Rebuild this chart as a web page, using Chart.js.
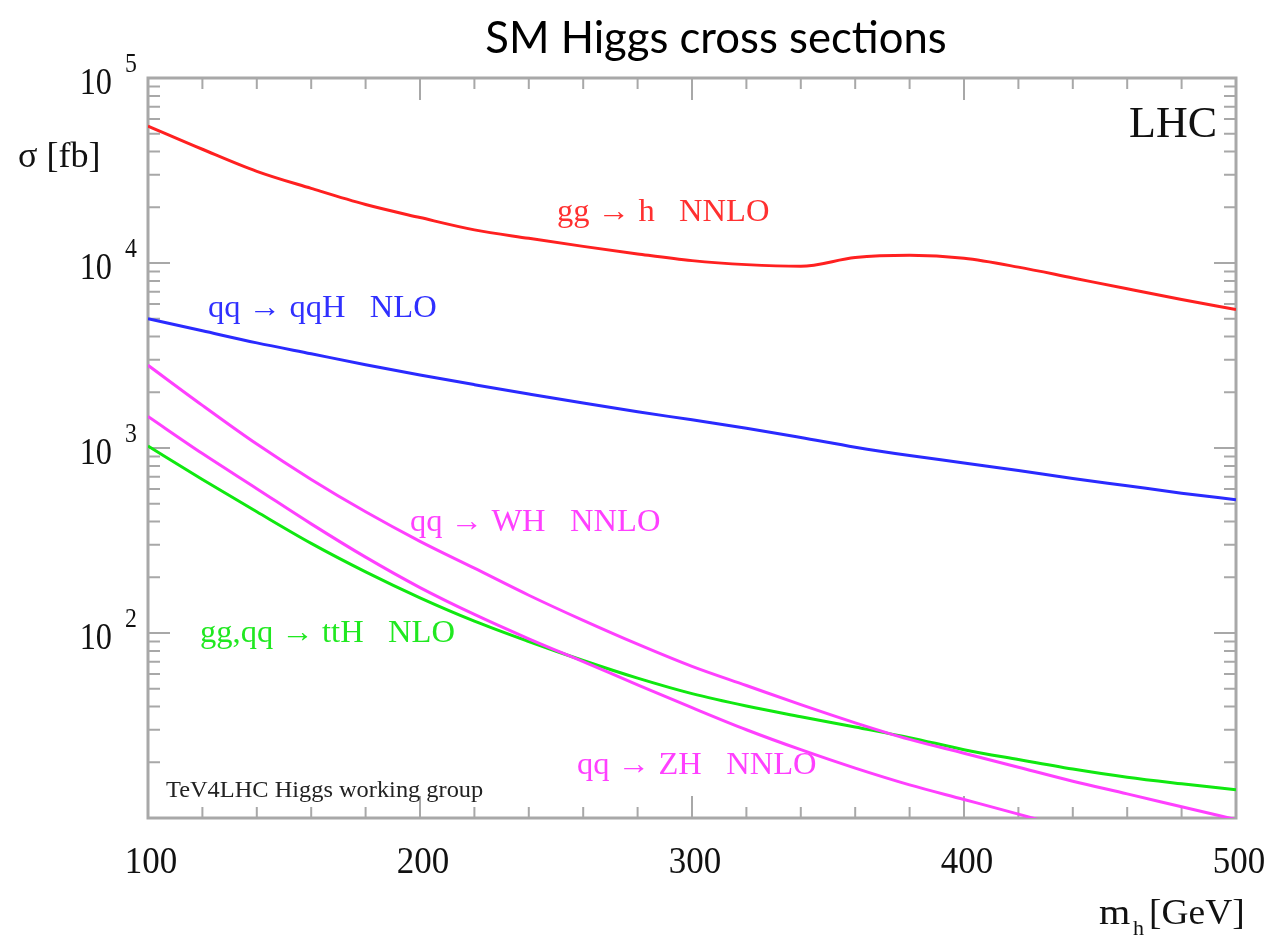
<!DOCTYPE html>
<html>
<head>
<meta charset="utf-8">
<script src="https://cdn.jsdelivr.net/npm/chart.js@4.4.1/dist/chart.umd.min.js"></script>
<style>
  body { margin: 0; background: #fff; }
  #wrap { position: relative; width: 1266px; height: 937px; }
</style>
</head>
<body>
<div id="wrap"><canvas id="higgsChart" width="1266" height="937"></canvas></div>
<script>
// Higgs mass points (GeV) and cross sections (fb)
const masses = [100, 120, 140, 160, 180, 200, 220, 240, 260, 280, 300, 320, 340, 360, 380, 400, 420, 440, 460, 480, 500];
const ggH = [55000, 41200, 31300, 25300, 20700, 17600, 15100, 13600, 12300, 11200, 10300, 9800, 9600, 10700, 11000, 10600, 9500, 8300, 7250, 6350, 5600];
const qqH = [5000, 4300, 3700, 3230, 2820, 2480, 2200, 1960, 1750, 1570, 1420, 1280, 1140, 1010, 910, 830, 755, 685, 625, 570, 525];
const WH = [2800, 1700, 1050, 676, 452, 313, 224, 160, 117, 87, 66, 52, 41, 32.7, 26.6, 22.4, 18.8, 15.8, 13.5, 11.5, 9.8];
const ttH = [1025, 676, 452, 305, 214, 155, 116, 90, 71, 57, 47, 40.3, 35.3, 31, 27.2, 23.4, 20.7, 18.4, 16.6, 15.3, 14.2];
const ZH = [1480, 933, 603, 389, 257, 176, 126, 93, 70, 52.5, 39.5, 30, 23.4, 18.6, 15.1, 12.6, 10.5, 8.7, 7.2, 6.0, 5.0];

const xTicks = [100, 200, 300, 400, 500];
const yExponents = [5, 4, 3, 2];

const serif = '"Liberation Serif", "DejaVu Serif", serif';

function pts(values) {
    return masses.map((m, i) => ({ x: m, y: values[i] }));
}

function line(values, color) {
    return {
        data: pts(values),
        borderColor: color,
        borderWidth: 3,
        pointRadius: 0,
        fill: false,
        cubicInterpolationMode: 'monotone'
    };
}

// draw text with a horizontal stretch factor, like the original figure
function txt(ctx, s, x, y, font, color, align, sx) {
    ctx.save();
    ctx.font = font;
    ctx.fillStyle = color;
    ctx.textBaseline = 'alphabetic';
    ctx.translate(x, y);
    ctx.scale(sx || 1, 1);
    ctx.textAlign = align || 'left';
    ctx.fillText(s, 0, 0);
    ctx.restore();
}

const framePlugin = {
    id: 'frame',
    beforeDatasetsDraw(chart) {
        const ctx = chart.ctx;
        const a = chart.chartArea;
        const xs = chart.scales.x;
        const ys = chart.scales.y;
        ctx.save();
        ctx.strokeStyle = '#a8a8a8';
        ctx.lineWidth = 2;
        ctx.beginPath();
        // x ticks every 20 GeV, longer at every 100
        for (let m = 100; m <= 500; m += 20) {
            const px = xs.getPixelForValue(m);
            const len = (m % 100 === 0) ? 22 : 11;
            ctx.moveTo(px, a.bottom); ctx.lineTo(px, a.bottom - len);
            ctx.moveTo(px, a.top); ctx.lineTo(px, a.top + len);
        }
        // log y ticks
        for (let e = 1; e <= 5; e++) {
            for (let k = 1; k <= 9; k++) {
                const v = k * Math.pow(10, e);
                if (v > 100000) break;
                const py = ys.getPixelForValue(v);
                const len = (k === 1) ? 22 : 12;
                ctx.moveTo(a.left, py); ctx.lineTo(a.left + len, py);
                ctx.moveTo(a.right, py); ctx.lineTo(a.right - len, py);
            }
        }
        ctx.stroke();
        ctx.lineWidth = 3;
        ctx.strokeRect(a.left, a.top, a.right - a.left, a.bottom - a.top);
        ctx.restore();
    },
    afterDatasetsDraw(chart) {
        const ctx = chart.ctx;
        const xs = chart.scales.x;
        const ys = chart.scales.y;

        // title
        txt(ctx, 'SM Higgs cross sections', 716, 53, '45px Lato, "Open Sans", sans-serif', '#000', 'center', 0.97);

        // y tick labels 10^n
        yExponents.forEach(e => {
            const py = ys.getPixelForValue(Math.pow(10, e));
            txt(ctx, '10', 112, py + 16, '38px ' + serif, '#111', 'right', 0.85);
            txt(ctx, String(e), 125, py - 6, '28px ' + serif, '#111', 'left', 0.85);
        });
        // x tick labels
        xTicks.forEach(m => {
            txt(ctx, String(m), xs.getPixelForValue(m) + 3, 873, '38px ' + serif, '#111', 'center', 0.92);
        });

        // axis titles
        txt(ctx, '\u03c3 [fb]', 18, 167, '35px ' + serif, '#111', 'left', 1.03);
        txt(ctx, 'm', 1099, 924, '35px ' + serif, '#111', 'left', 1.15);
        txt(ctx, 'h', 1133, 935, '21px ' + serif, '#111', 'left', 1.05);
        txt(ctx, '[GeV]', 1149, 924, '35px ' + serif, '#111', 'left', 1.07);

        // annotations
        txt(ctx, 'LHC', 1217, 137, '44px ' + serif, '#111', 'right', 1);
        txt(ctx, 'gg \u2192 h   NNLO', 557, 221, '31px ' + serif, '#ff3030', 'left', 1.05);
        txt(ctx, 'qq \u2192 qqH   NLO', 208, 317, '31px ' + serif, '#3030ff', 'left', 1.05);
        txt(ctx, 'qq \u2192 WH   NNLO', 410, 531, '31px ' + serif, '#ff40ff', 'left', 1.05);
        txt(ctx, 'gg,qq \u2192 ttH   NLO', 200, 642, '31px ' + serif, '#20e820', 'left', 1.05);
        txt(ctx, 'qq \u2192 ZH   NNLO', 577, 774, '31px ' + serif, '#ff40ff', 'left', 1.05);
        txt(ctx, 'TeV4LHC Higgs working group', 166, 797, '23px ' + serif, '#222', 'left', 1.06);
    }
};

new Chart(document.getElementById('higgsChart').getContext('2d'), {
    type: 'line',
    data: {
        datasets: [
            line(ggH, '#ff2020'),
            line(qqH, '#2a2aff'),
            line(WH, '#ff40ff'),
            line(ZH, '#ff40ff'),
            line(ttH, '#10e810')
        ]
    },
    options: {
        responsive: false,
        animation: false,
        layout: { padding: { left: 148, top: 78, right: 30, bottom: 119 } },
        scales: {
            x: { type: 'linear', min: 100, max: 500, display: false },
            y: { type: 'logarithmic', min: 10, max: 100000, display: false }
        },
        plugins: {
            legend: { display: false },
            tooltip: { enabled: false }
        }
    },
    plugins: [framePlugin]
});
</script>
</body>
</html>
